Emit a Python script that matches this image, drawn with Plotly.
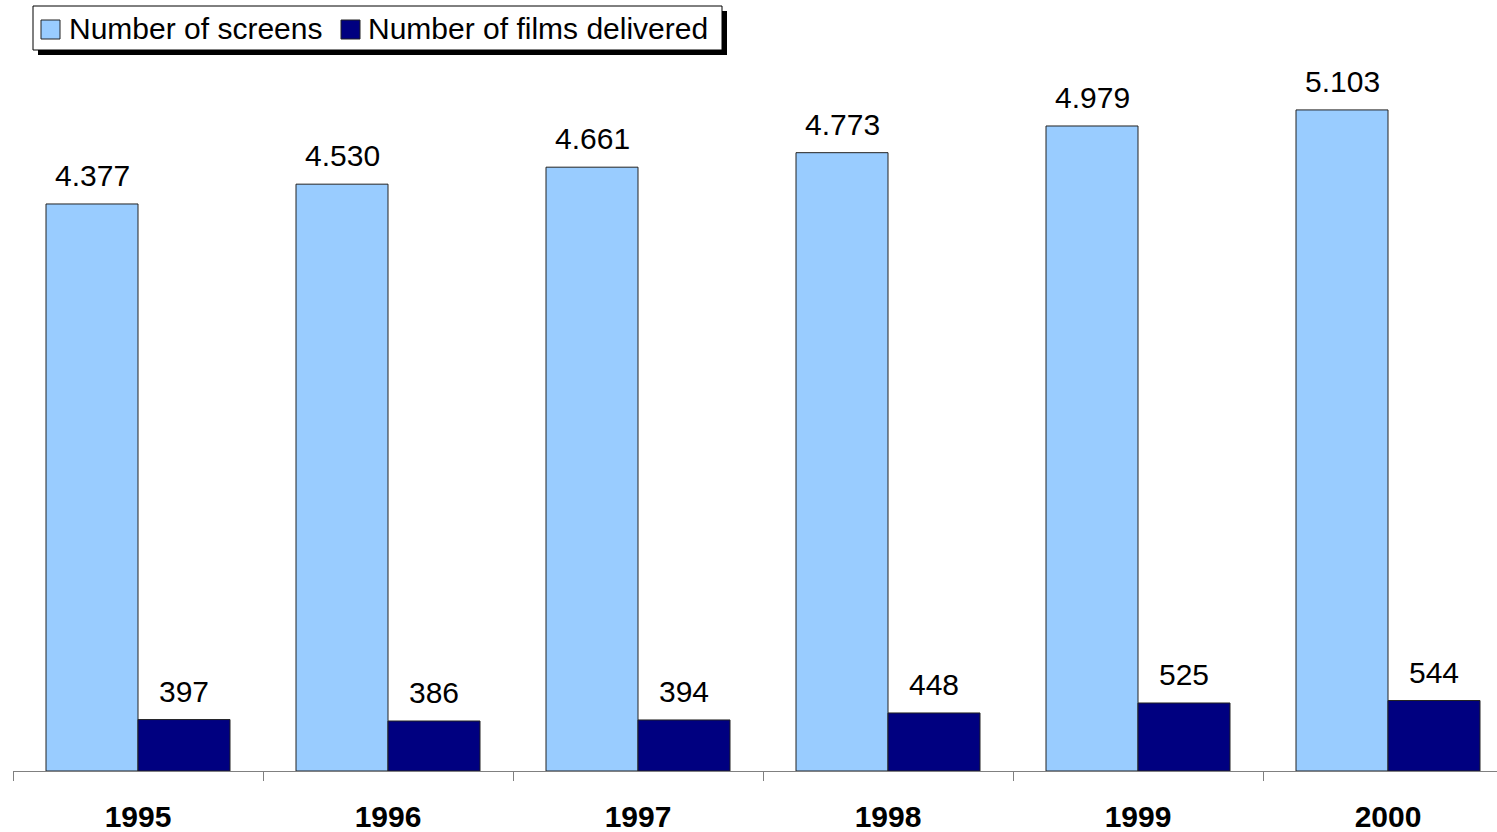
import plotly.graph_objects as go

years = ["1995", "1996", "1997", "1998", "1999", "2000"]
screens = [4377, 4530, 4661, 4773, 4979, 5103]
films = [397, 386, 394, 448, 525, 544]
screens_name = "Number of screens"
films_name = "Number of films delivered"

LIGHT = "#99CCFF"
NAVY = "#000080"
FONT = "Liberation Sans, Arial, sans-serif"
BARGAP = 0.264
half = (1 - BARGAP) / 4  # offset of each bar centre from its category centre

W, H = 1497, 832
ML, MR, MT, MB = 13, 0, 80, 61
PW, PH = W - ML - MR, H - MT - MB


def fmt(v):
    return f"{v:,}".replace(",", ".")


# pixel position -> paper coordinates (paper spans the plot area)
def px(x):
    return (x - ML) / PW


def py(y):
    return (H - MB - y) / PH


fig = go.Figure()
fig.add_trace(go.Bar(x=years, y=screens, name=screens_name,
                     marker=dict(color=LIGHT, line=dict(color="#222222", width=1))))
fig.add_trace(go.Bar(x=years, y=films, name=films_name,
                     marker=dict(color=NAVY, line=dict(color="#222222", width=1))))

annotations = []
for i, (s, f) in enumerate(zip(screens, films)):
    for val, dx in ((s, -half), (f, half)):
        annotations.append(dict(x=i + dx, y=val, xref="x", yref="y", text=fmt(val),
                                showarrow=False, yanchor="bottom", yshift=10,
                                font=dict(family=FONT, size=30, color="black")))

# legend box with drop shadow
shapes = [
    dict(type="rect", xref="paper", yref="paper", x0=px(38), x1=px(727), y0=py(55), y1=py(11),
         fillcolor="black", line=dict(width=0), layer="above"),
    dict(type="rect", xref="paper", yref="paper", x0=px(33), x1=px(722), y0=py(50), y1=py(6),
         fillcolor="white", line=dict(color="black", width=1), layer="above"),
    dict(type="rect", xref="paper", yref="paper", x0=px(41), x1=px(60), y0=py(39), y1=py(20),
         fillcolor=LIGHT, line=dict(color="#222222", width=1), layer="above"),
    dict(type="rect", xref="paper", yref="paper", x0=px(341), x1=px(360), y0=py(39), y1=py(20),
         fillcolor=NAVY, line=dict(color="#222222", width=1), layer="above"),
]
for name, x in ((screens_name, 67), (films_name, 366)):
    annotations.append(dict(x=px(x), y=py(29), xref="paper", yref="paper", text=name,
                            showarrow=False, xanchor="left", yanchor="middle",
                            font=dict(family=FONT, size=30, color="black")))

fig.update_layout(
    width=W, height=H,
    margin=dict(l=ML, r=MR, t=MT, b=MB),
    paper_bgcolor="white", plot_bgcolor="white",
    barmode="group", bargap=BARGAP, bargroupgap=0,
    showlegend=False,
    annotations=annotations, shapes=shapes,
    xaxis=dict(type="category", range=[-0.5, 5.436], showline=True, linecolor="#808080",
               linewidth=1, ticks="outside", tickson="boundaries", ticklen=9,
               tickcolor="#808080", showgrid=False, ticklabelstandoff=19,
               tickfont=dict(family=FONT, size=30, color="black", weight="bold")),
    yaxis=dict(range=[0, 5334], visible=False, showgrid=False, zeroline=False),
)

fig.write_html("out.html")
